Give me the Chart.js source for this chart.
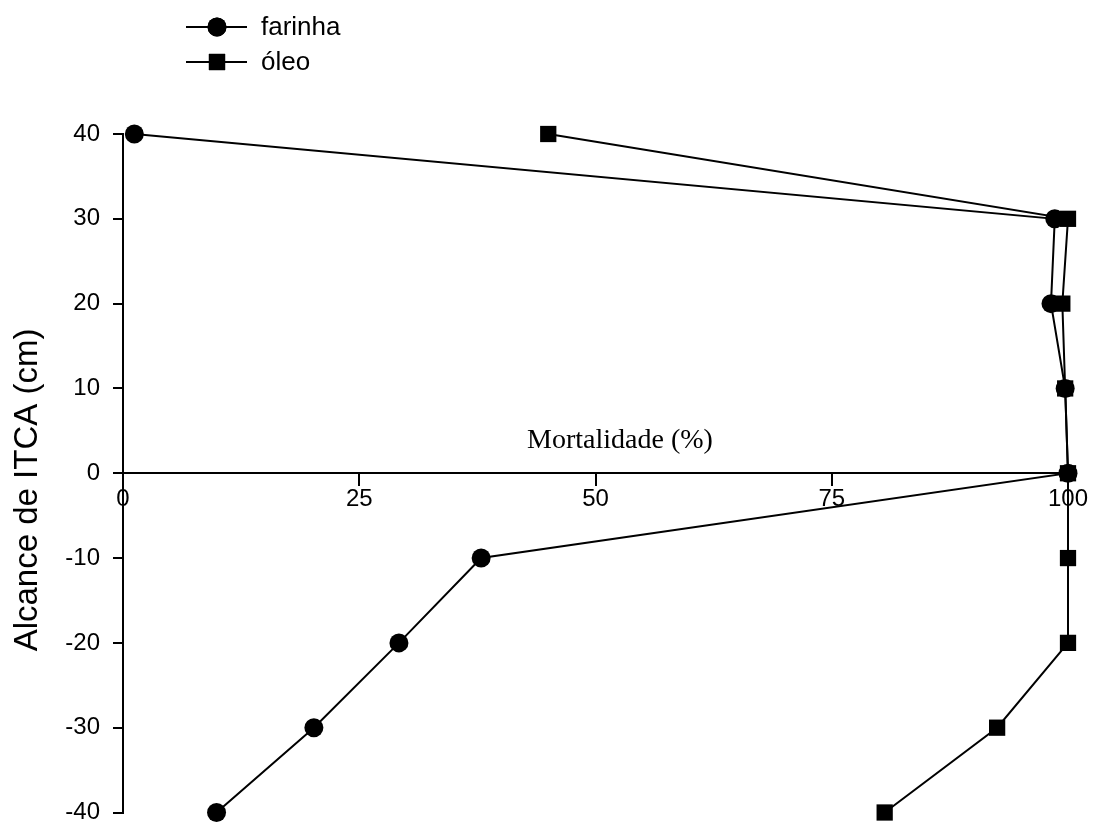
<!DOCTYPE html>
<html>
<head>
<meta charset="utf-8">
<script src="https://cdn.jsdelivr.net/npm/chart.js@4"></script>
<style>
  html, body { margin: 0; padding: 0; background: #fff; }
  #wrap { width: 1099px; height: 824px; }
</style>
</head>
<body>
<div id="wrap"><canvas id="grafico"></canvas></div>
<script>
// alcance (cm) e mortalidade (%)
var alcance = [40, 30, 20, 10, 0, -10, -20, -30, -40];
var farinha = [1.2, 98.6, 98.2, 99.7, 100, 37.9, 29.2, 20.2, 9.9];
var oleo = [45, 100, 99.4, 99.7, 100, 100, 100, 92.5, 80.6];
var xTicks = [0, 25, 50, 75, 100];
var yTicks = [40, 30, 20, 10, 0, -10, -20, -30, -40];

var pares = (xs) => xs.map((v, i) => ({ x: v, y: alcance[i] }));

// titulos e legenda desenhados a mao
var textos = {
  id: 'textos',
  afterDraw: function(chart) {
    var ctx = chart.ctx;
    ctx.save();
    ctx.fillStyle = '#000';
    ctx.strokeStyle = '#000';

    ctx.font = '28px "Liberation Serif", "Times New Roman", serif';
    ctx.textAlign = 'center';
    ctx.textBaseline = 'middle';
    ctx.fillText('Mortalidade (%)', 620, 441);

    ctx.save();
    ctx.translate(28, 490);
    ctx.rotate(-Math.PI / 2);
    ctx.font = '33px "Liberation Sans", Arial, sans-serif';
    ctx.fillText('Alcance de ITCA (cm)', 0, 0);
    ctx.restore();

    ctx.font = '26px "Liberation Sans", Arial, sans-serif';
    ctx.textAlign = 'left';
    chart.data.datasets.forEach(function(ds, i) {
      var y = 27 + i * 35;
      ctx.lineWidth = 2;
      ctx.beginPath();
      ctx.moveTo(186, y);
      ctx.lineTo(247, y);
      ctx.stroke();
      Chart.helpers.drawPoint(ctx, {
        pointStyle: ds.pointStyle, radius: ds.pointRadius, borderWidth: 0
      }, 217, y);
      ctx.fill();
      ctx.fillText(ds.label, 261, y + 1);
    });
    ctx.restore();
  }
};

new Chart(document.getElementById('grafico'), {
  type: 'scatter',
  data: {
    datasets: [
      {
        label: 'farinha',
        data: pares(farinha),
        showLine: true,
        borderColor: '#000',
        backgroundColor: '#000',
        borderWidth: 2,
        pointStyle: 'circle',
        pointRadius: 9.5,
        pointBorderWidth: 0,
        clip: false
      },
      {
        label: 'óleo',
        data: pares(oleo),
        showLine: true,
        borderColor: '#000',
        backgroundColor: '#000',
        borderWidth: 2,
        pointStyle: 'rect',
        pointRadius: 11.5,
        pointBorderWidth: 0,
        clip: false
      }
    ]
  },
  options: {
    responsive: true,
    maintainAspectRatio: false,
    animation: false,
    layout: { padding: { top: 134, right: 31, bottom: 11, left: 0 } },
    plugins: {
      legend: { display: false },
      tooltip: { enabled: false }
    },
    scales: {
      x: {
        type: 'linear',
        position: { y: 0 },
        min: 0,
        max: 100,
        afterFit: function(s) { s.paddingLeft = 0; s.paddingRight = 0; s.paddingTop = 0; s.paddingBottom = 0; },
        afterBuildTicks: function(s) { s.ticks = xTicks.map(v => ({ value: v })); },
        border: { display: true, color: '#000', width: 2 },
        grid: { display: true, drawOnChartArea: false, color: '#000', lineWidth: 2, tickLength: 12 },
        ticks: {
          color: '#000',
          padding: 0,
          font: { family: '"Liberation Sans", Arial, sans-serif', size: 24 }
        }
      },
      y: {
        type: 'linear',
        position: 'left',
        min: -40,
        max: 40,
        afterFit: function(s) { s.width = 123; s.paddingTop = 0; s.paddingBottom = 0; },
        afterBuildTicks: function(s) { s.ticks = yTicks.map(v => ({ value: v })); },
        border: { display: true, color: '#000', width: 2 },
        grid: { display: true, drawOnChartArea: false, color: '#000', lineWidth: 2, tickLength: 10 },
        ticks: {
          color: '#000',
          padding: 13,
          font: { family: '"Liberation Sans", Arial, sans-serif', size: 24 }
        }
      }
    }
  },
  plugins: [textos]
});
</script>
</body>
</html>
